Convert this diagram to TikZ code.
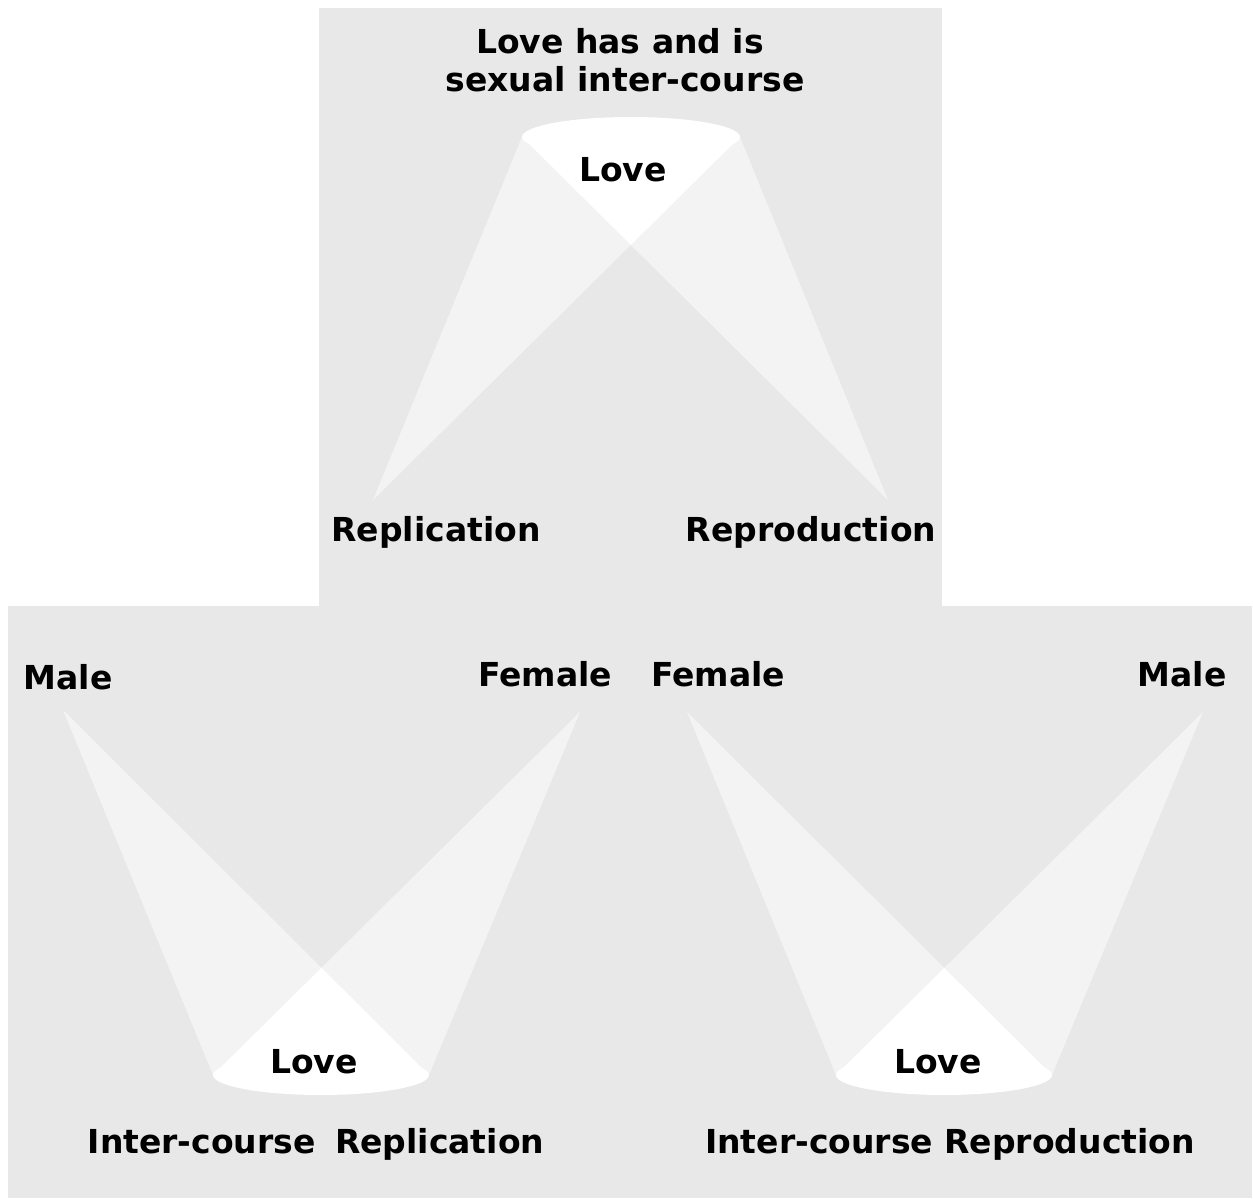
\documentclass[tikz,border=0pt]{standalone}
\usepackage{fontspec}
\setmainfont{DejaVu Sans}
\definecolor{bg}{HTML}{E8E8E8}
\definecolor{beam}{HTML}{F3F3F3}
\begin{document}
\begin{tikzpicture}[x=1pt,y=-1pt,
  lbl/.style={font=\bfseries\fontsize{33}{40}\selectfont, inner sep=0pt, anchor=base, text=black},
  beamfill/.style={fill=beam},
  spot/.style={fill=white}]
\useasboundingbox (0,0) rectangle (1253,1199);
\fill[white] (0,0) rectangle (1253,1199);
\fill[bg] (319,8) rectangle (942,606);
\fill[bg] (8,606) rectangle (1252,1198);

% ---------- top panel ----------
\coordinate (TL) at (373,500);
\coordinate (TR) at (888,500);
\coordinate (TA) at (522,137);
\coordinate (TB) at (740,137);
\coordinate (TC) at (631,137);
\fill[beamfill] (TL) -- (TA) -- (TB) -- cycle;
\fill[beamfill] (TR) -- (TA) -- (TB) -- cycle;
\begin{scope}
  \clip (TL) -- (TA) -- (TB) -- cycle;
  \fill[spot] (TR) -- (TA) -- (TB) -- cycle;
\end{scope}
\fill[spot] (TC) ellipse[x radius=109, y radius=20];

% ---------- bottom left panel ----------
\coordinate (LL) at (63,710);
\coordinate (LR) at (580,712);
\coordinate (LA) at (213,1075);
\coordinate (LB) at (429,1075);
\coordinate (LC) at (321,1075);
\fill[beamfill] (LL) -- (LA) -- (LB) -- cycle;
\fill[beamfill] (LR) -- (LA) -- (LB) -- cycle;
\begin{scope}
  \clip (LL) -- (LA) -- (LB) -- cycle;
  \fill[spot] (LR) -- (LA) -- (LB) -- cycle;
\end{scope}
\fill[spot] (LC) ellipse[x radius=108, y radius=20];

% ---------- bottom right panel ----------
\coordinate (RL) at (687,712);
\coordinate (RR) at (1203,712);
\coordinate (RA) at (836,1075);
\coordinate (RB) at (1052,1075);
\coordinate (RC) at (944,1075);
\fill[beamfill] (RL) -- (RA) -- (RB) -- cycle;
\fill[beamfill] (RR) -- (RA) -- (RB) -- cycle;
\begin{scope}
  \clip (RL) -- (RA) -- (RB) -- cycle;
  \fill[spot] (RR) -- (RA) -- (RB) -- cycle;
\end{scope}
\fill[spot] (RC) ellipse[x radius=108, y radius=20];

% ---------- labels ----------
\node[lbl] (title1) at (620,54) {Love has and is};
\node[lbl] (title2) at (625,92) {sexual inter-course};
\node[lbl] (lovetop) at (623,181) {Love};
\node[lbl] (repl) at (436,541) {Replication};
\node[lbl] (repr) at (811,541) {Reproduction};

\node[lbl] (maleL) at (68,689) {Male};
\node[lbl] (femaleL) at (545,686) {Female};
\node[lbl] (loveL) at (314,1073) {Love};
\node[lbl] (icrepl) at (316,1153) {Inter-course\hspace{8pt} Replication};

\node[lbl] (femaleR) at (718,686) {Female};
\node[lbl] (maleR) at (1182,686) {Male};
\node[lbl] (loveR) at (938,1073) {Love};
\node[lbl] (icrepr) at (950,1153) {Inter-course Reproduction};
\end{tikzpicture}
\end{document}
